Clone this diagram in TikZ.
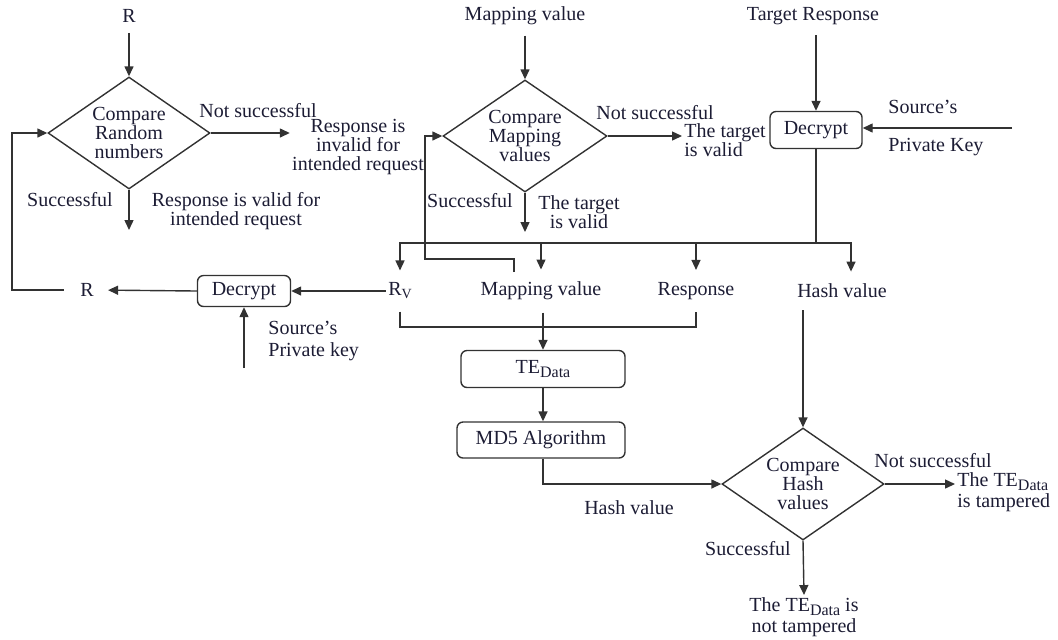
\documentclass[tikz,border=0pt]{standalone}
\usepackage{fontspec}
\setmainfont{Liberation Serif}
\newfontfamily\tms{Liberation Serif}
\usetikzlibrary{shapes.geometric,arrows.meta}
\definecolor{txt}{RGB}{28,28,52}
\definecolor{ln}{RGB}{50,50,50}
\newcommand{\lowsub}[1]{\raisebox{-2pt}{\fontsize{8}{8}\selectfont #1}}
\begin{document}
\begin{tikzpicture}[x=0.5pt,y=-0.5pt,
 every node/.style={font=\tms\fontsize{10}{9.5}\selectfont, text=txt},
 lbl/.style={inner sep=1pt, align=center},
 rowlbl/.style={inner xsep=1pt, inner ysep=6pt},
 dia/.style={draw=ln, line width=0.7pt, diamond, inner sep=0pt, minimum width=81pt, minimum height=56pt},
 rbox/.style={draw=ln, line width=0.7pt, rounded corners=3pt, inner sep=0pt},
 conn/.style={draw=ln, line width=0.7pt},
 arr/.style={conn, -{Triangle[length=5pt,width=4.5pt]}}
]
\useasboundingbox (0,0) rectangle (1058,639);

% ---- left decision ----
\node[lbl] (r1) at (129,16) {R};
\node[dia] (d1) at (129,133) {};
\node[lbl] (d1t) at (d1.center) {Compare\\Random\\numbers};
\node[lbl] (ns1) at (258,111) {Not successful};
\node[lbl] (inv) at (358,147) {Response is\\invalid for\\intended request};
\node[lbl] (sc1) at (70,200) {Successful};
\node[lbl] (val) at (236,211) {Response is valid for\\intended request};
\coordinate (s1) at (129,230);
\draw[arr, shorten <=4pt] (r1.south) -- (d1.north);
\draw[arr] (d1.east) -- (d1.east -| inv.west);
\draw[arr] (d1.south) -- (s1);

% ---- decrypt R_v ----
\node[lbl] (r2) at (87,290) {R};
\node[rbox, minimum width=46.5pt, minimum height=15.5pt] (dec2) at (244,291) {Decrypt};
\node[lbl, align=left, anchor=west] (pk2) at (266,341) {Source’s\\[1.5pt]Private key};
\node[rowlbl] (rv) at (400,291) {R\raisebox{-1.5pt}{\fontsize{7}{7}\selectfont V}};
\coordinate (l1) at (12,290);
\coordinate (k2) at (244,368);
\draw[arr, shorten >=6pt] (dec2.west) -- (r2.east);
\draw[arr] (rv.west) -- (dec2.east);
\draw[arr] (k2) -- (dec2.south);
\draw[arr, shorten <=7pt] (r2.west) -- (l1) |- (d1.west);

% ---- middle decision ----
\node[lbl] (mv0) at (525,16) {Mapping value};
\node[dia, minimum width=82pt] (d2) at (525,136) {};
\node[lbl] (d2t) at (d2.center) {Compare\\Mapping\\values};
\node[lbl] (ns2) at (655,113) {Not successful};
\node[lbl, align=left, anchor=west] (tv1) at (682,140) {The target\\is valid};
\node[lbl] (sc2) at (470,201) {Successful};
\node[lbl] (tv2) at (579,212) {The target\\is valid};
\coordinate (s2) at (525,232);
\draw[arr, shorten <=4pt] (mv0.south) -- (d2.north);
\draw[arr] (d2.east) -- (d2.east -| tv1.west);
\draw[arr] (d2.south) -- (s2);

% ---- right decrypt ----
\node[lbl] (tr) at (813,16) {Target Response};
\node[rbox, minimum width=46pt, minimum height=18.5pt] (dec3) at (816,130) {Decrypt};
\node[lbl, align=left, anchor=west] (pk3) at (886,128) {Source’s\\[9.5pt]Private Key};
\coordinate (k3) at (1012,128);
\draw[arr, shorten <=4pt] (tr.south -| dec3.north) -- (dec3.north);
\draw[arr] (k3) -- (k3 -| dec3.east);

% ---- distribution row ----
\node[rowlbl] (mv) at (541,291) {Mapping value};
\node[rowlbl] (resp) at (696,291) {Response};
\node[rowlbl] (hv) at (842,291) {Hash value};
\coordinate (j) at (816,243);
\draw[conn] (dec3.south) -- (j);
\draw[arr] (j) -| (rv.north);
\draw[arr] (j) -| ([xshift=4.5pt]hv.north);
\draw[arr] (mv.north |- j) -- (mv.north);
\draw[arr] (resp.north |- j) -- (resp.north);

% loop back to mapping comparison
\coordinate (l2) at (514,272);
\coordinate (l2b) at (425,259);
\draw[arr] (l2) |- (l2b) |- (d2.west);

% ---- collect into TE_Data ----
\node[rbox, minimum width=82pt, minimum height=18.5pt] (te) at (543,369) {TE\lowsub{Data}};
\node[rbox, minimum width=84pt, minimum height=18pt] (md5) at (541,440) {MD5 Algorithm};
\coordinate (c1) at (400,327);
\draw[conn] (rv.south) |- (resp.south |- c1) -- (resp.south);
\draw[arr] (mv.south -| te.north) -- (te.north);
\draw[arr] (te.south) -- (te.south |- md5.north);

% ---- hash comparison ----
\node[dia] (d3) at (803,484) {};
\node[lbl] (d3t) at (d3.center) {Compare\\Hash\\values};
\node[lbl] (hv2) at (629,508) {Hash value};
\node[lbl] (ns3) at (933,461) {Not successful};
\node[lbl, align=left, anchor=west] (tp) at (955,492) {The TE\lowsub{Data}\\[1pt]is tampered};
\node[lbl] (sc3) at (748,549) {Successful};
\node[lbl] (nt) at (804,617) {The TE\lowsub{Data} is\\[1pt]not tampered};
\draw[arr] (md5.south -| te.south) |- (d3.west);
\draw[arr] (hv.south -| d3.north) -- (d3.north);
\draw[arr] (d3.east) -- (d3.east -| tp.west);
\draw[arr] (d3.south) -- (nt.north);
\end{tikzpicture}
\end{document}
